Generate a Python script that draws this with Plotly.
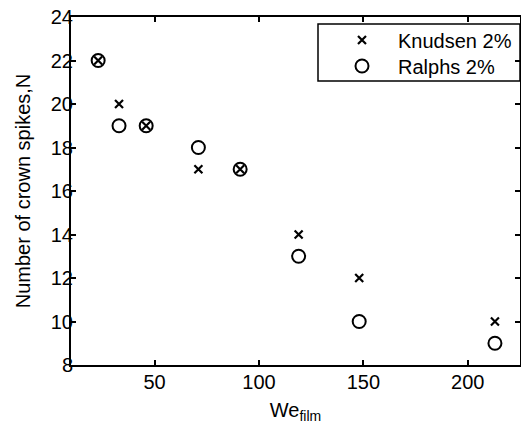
import plotly.graph_objects as go

knudsen_x = [23, 33, 46, 71, 91, 119, 148, 213]
knudsen_y = [22, 20, 19, 17, 17, 14, 12, 10]
ralphs_x = [23, 33, 46, 71, 91, 119, 148, 213]
ralphs_y = [22, 19, 19, 18, 17, 13, 10, 9]
x_ticks = [50, 100, 150, 200]
y_ticks = [8, 10, 12, 14, 16, 18, 20, 22, 24]

FS = 20
L, R, T, B = 71, 1, 17, 59
W, H = 521, 424
PW, PH = W - L - R, H - T - B

def px_x(p):
    return (p - L) / PW

def px_y(p):
    return (H - B - p) / PH

fig = go.Figure()
fig.add_trace(go.Scatter(x=knudsen_x, y=knudsen_y, mode="markers", name="Knudsen 2%",
                         legend="legend", showlegend=True,
                         marker=dict(symbol="x-thin-open", size=8, color="black",
                                     line=dict(width=2.2, color="black"))))
fig.add_trace(go.Scatter(x=ralphs_x, y=ralphs_y, mode="markers", name="Ralphs 2%",
                         legend="legend2", showlegend=True,
                         marker=dict(symbol="circle-open", size=13, color="black",
                                     line=dict(width=2, color="black"))))

axis_common = dict(showgrid=False, zeroline=False, showline=True, linecolor="black",
                   linewidth=2, mirror="ticks", ticks="inside", ticklen=5,
                   tickwidth=1.5, tickcolor="black", automargin=False,
                   tickfont=dict(size=FS, color="black"))
fig.update_xaxes(range=[10, 225], tickvals=x_ticks, ticklabelstandoff=-2,
                 title=dict(text="We<sub>film</sub>", font=dict(size=FS, color="black")),
                 **axis_common)
fig.update_yaxes(range=[8, 24], tickvals=y_ticks, ticklabelstandoff=-8,
                 title=dict(text="Number of crown spikes,N", font=dict(size=FS, color="black")),
                 **axis_common)

# legend frame
fig.add_shape(type="rect", xref="paper", yref="paper",
              x0=px_x(318), x1=px_x(520), y0=px_y(81), y1=px_y(24),
              line=dict(color="black", width=1.5), fillcolor="white", layer="below")

leg_common = dict(x=px_x(326), xanchor="left", yanchor="middle",
                  borderwidth=0, bgcolor="rgba(0,0,0,0)",
                  font=dict(size=FS), itemwidth=62)
fig.update_layout(
    width=W, height=H, showlegend=True,
    margin=dict(l=L, r=R, t=T, b=B, autoexpand=False),
    paper_bgcolor="white", plot_bgcolor="white",
    font=dict(family="Liberation Sans, Arial, sans-serif", size=FS, color="black"),
    legend=dict(y=px_y(40), **leg_common),
    legend2=dict(y=px_y(66), **leg_common),
)
fig.write_html("out.html", config={"displayModeBar": False},
               post_script="document.body.style.margin='0';")
